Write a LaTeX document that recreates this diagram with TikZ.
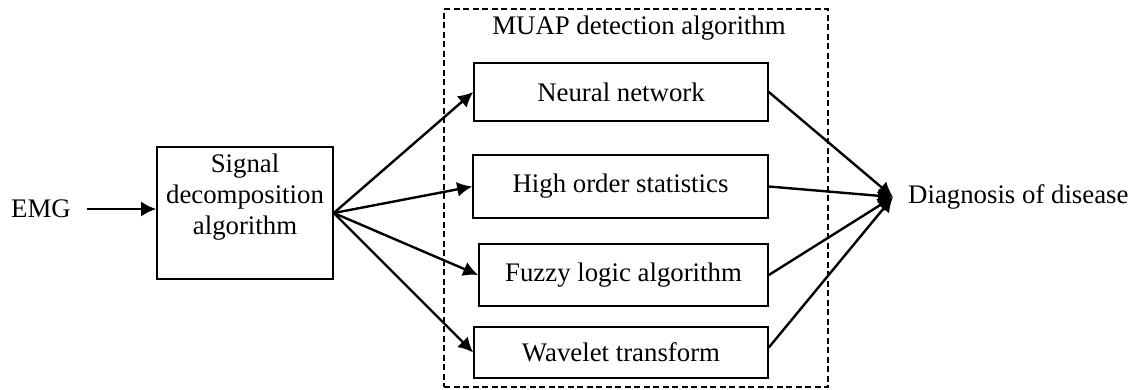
\documentclass[tikz,border=0pt]{standalone}
\usepackage{fontspec}
\setmainfont{Liberation Serif}
\usetikzlibrary{arrows.meta}
\begin{document}
\begin{tikzpicture}[x=1pt,y=-1pt,
  every node/.style={font=\fontsize{26.8}{31}\selectfont},
  box/.style={draw,line width=1.6pt,inner sep=0pt,minimum width=#1},
  arr/.style={line width=2.4pt,-{Latex[length=15pt,width=15pt]}}]
\useasboundingbox (0,0) rectangle (1137,389);
% dashed group
\node[draw,dash pattern=on 6pt off 3.5pt,line width=1.5pt,minimum width=384pt,minimum height=378pt,inner sep=0pt] (muap) at (636,198) {};
\node (title) at (639,28) {MUAP detection algorithm};
% input
\node[inner sep=0pt] (emg) at (41,209) {EMG};
\node[box=176pt,minimum height=132pt] (sig) at (245,213) {};
\node[align=center,inner sep=0pt] (sigt) at (245,197) {Signal\\decomposition\\algorithm};
% algorithms
\node[box=294pt,minimum height=58pt] (nn) at (621,92) {Neural network};
\node[box=295pt,minimum height=63pt] (hos) at (620.5,186.5) {High order statistics};
\node[box=289pt,minimum height=62pt] (fz) at (623.5,275) {Fuzzy logic algorithm};
\node[box=294pt,minimum height=51pt] (wt) at (621,352.5) {Wavelet transform};
% output
\node[anchor=west,inner sep=0pt] (diag) at (908,197) {Diagnosis of disease};
\coordinate (conv) at (893,197);
% connectors
\draw[arr] ([xshift=16pt]emg.east) -- (emg.east -| sig.west);
\draw[arr] (sig.east) -- (nn.west);
\draw[arr] (sig.east) -- (hos.west);
\draw[arr] (sig.east) -- (fz.west);
\draw[arr] (sig.east) -- (wt.west);
\draw[arr] (nn.east) -- (conv);
\draw[arr] (hos.east) -- (conv);
\draw[arr] (fz.east) -- (conv);
\draw[arr] ([yshift=5pt]wt.east) -- (conv);
\end{tikzpicture}
\end{document}
